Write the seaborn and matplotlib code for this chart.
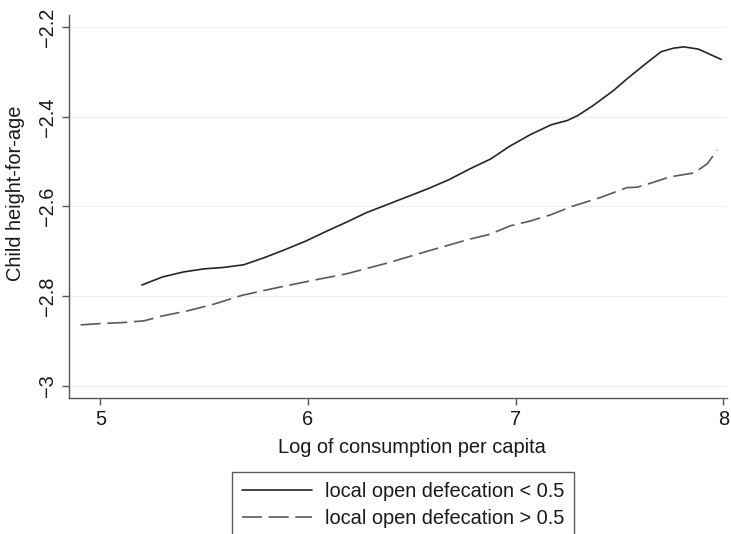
import numpy as np
import pandas as pd
import matplotlib
matplotlib.use("Agg")
import matplotlib.pyplot as plt
import seaborn as sns

# Data
low_x = [5.20, 5.30, 5.40, 5.50, 5.59, 5.69, 5.79, 5.89, 5.99, 6.09, 6.19, 6.28, 6.38, 6.48,
         6.58, 6.68, 6.78, 6.88, 6.97, 7.07, 7.17, 7.25, 7.30, 7.37, 7.47, 7.54, 7.62, 7.70,
         7.76, 7.81, 7.88, 7.99]
low_y = [-2.775, -2.757, -2.746, -2.739, -2.736, -2.730, -2.714, -2.696, -2.677, -2.655,
         -2.634, -2.614, -2.596, -2.578, -2.560, -2.540, -2.516, -2.494, -2.466, -2.440,
         -2.418, -2.408, -2.397, -2.376, -2.342, -2.314, -2.284, -2.255, -2.247, -2.244,
         -2.249, -2.272]

high_x = [4.905, 5.003, 5.102, 5.210, 5.299, 5.417, 5.545, 5.683, 5.841, 6.009, 6.186,
          6.383, 6.580, 6.777, 6.876, 6.975, 7.073, 7.172, 7.270, 7.408, 7.536, 7.585,
          7.664, 7.743, 7.861, 7.925, 7.970]
high_y = [-2.864, -2.861, -2.859, -2.855, -2.844, -2.833, -2.818, -2.798, -2.782, -2.766,
          -2.750, -2.726, -2.699, -2.673, -2.662, -2.643, -2.632, -2.618, -2.600, -2.580,
          -2.558, -2.557, -2.546, -2.534, -2.525, -2.504, -2.474]

labels = ["local open defecation < 0.5", "local open defecation > 0.5"]
x_ticks = [5, 6, 7, 8]
y_ticks = [-3.0, -2.8, -2.6, -2.4, -2.2]
y_ticklabels = ["\u22123", "\u22122.8", "\u22122.6", "\u22122.4", "\u22122.2"]

sns.set_theme(style="white")
plt.rcParams["font.family"] = ["Liberation Sans", "DejaVu Sans"]

FS = 14.4

df_low = pd.DataFrame({"x": low_x, "y": low_y})
df_high = pd.DataFrame({"x": high_x, "y": high_y})

fig = plt.figure(figsize=(7.31, 5.34), dpi=100)
ax = fig.add_axes([0.0944, 0.2547, 0.9001, 0.7172])

for yv in y_ticks:
    ax.axhline(yv, color="#f0f0f0", lw=1.0, zorder=0)

sns.lineplot(data=df_low, x="x", y="y", ax=ax, color="#262626", lw=1.2,
             label=labels[0], sort=False, estimator=None)
sns.lineplot(data=df_high, x="x", y="y", ax=ax, color="#5a5a5a", lw=1.2,
             label=labels[1], sort=False, estimator=None)
ax.lines[-1].set_dashes([12, 4])

ax.set_xlim(4.849, 8.018)
ax.set_ylim(-3.027, -2.173)
ax.set_xticks(x_ticks)
ax.set_xticklabels([str(t) for t in x_ticks])
ax.set_yticks(y_ticks)
ax.set_yticklabels(y_ticklabels, rotation=90, va="center")

for side in ["top", "right"]:
    ax.spines[side].set_visible(False)
for side in ["left", "bottom"]:
    ax.spines[side].set_color("#555555")
    ax.spines[side].set_linewidth(1.0)

ax.tick_params(axis="both", direction="out", length=5, width=1.0, color="#555555",
               labelsize=FS, labelcolor="#1a1a1a", bottom=True, left=True, pad=4)
ax.set_xlabel("Log of consumption per capita", fontsize=FS, color="#1a1a1a")
ax.set_ylabel("Child height-for-age", fontsize=FS, color="#1a1a1a")
ax.xaxis.set_label_coords(0.521, -0.1044)
ax.yaxis.set_label_coords(-0.0663, 0.534)

handles, lbls = ax.get_legend_handles_labels()
ax.get_legend().remove()
leg = fig.legend(handles, lbls, loc="upper left", bbox_to_anchor=(0.3174, 0.1161),
                 fontsize=FS, frameon=True, fancybox=False, handlelength=3.5,
                 borderpad=0.5, labelspacing=0.4, handletextpad=0.65, borderaxespad=0)
leg.get_frame().set_edgecolor("#333333")
leg.get_frame().set_linewidth(1.0)
for t in leg.get_texts():
    t.set_color("#1a1a1a")

fig.savefig("out.png", dpi=100)
